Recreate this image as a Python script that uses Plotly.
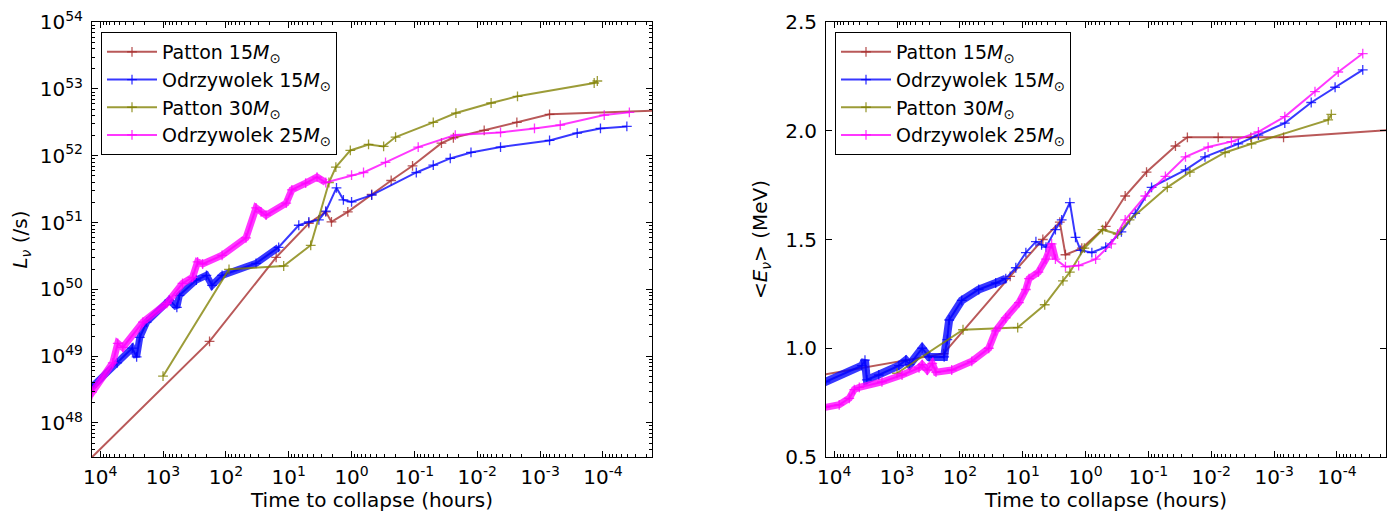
import plotly.graph_objects as go

# ---------------- data (log10 of time-to-collapse in hours) ----------------
# Patton 15 Msun (same times in both panels)
p15_logt = [4.3, 2.26, 1.20, 0.68, 0.41, 0.32, 0.06, -0.32, -0.63, -0.97, -1.43, -1.62, -2.11, -2.63, -3.15, -4.9]
p15_logL = [47.33, 49.22, 50.48, 50.99, 51.16, 51.01, 51.16, 51.42, 51.63, 51.85, 52.19, 52.27, 52.38, 52.50, 52.62, 52.68]
p15_E = [0.872, 0.975, 1.33, 1.50, 1.58, 1.43, 1.46, 1.56, 1.70, 1.81, 1.93, 1.97, 1.97, 1.97, 1.97, 2.005]

# Patton 30 Msun
p30_logt = [3.0, 1.95, 1.08, 0.65, 0.36, 0.25, 0.02, -0.27, -0.51, -0.70, -1.30, -1.66, -2.22, -2.64, -3.86, -3.91]
p30_logL = [48.70, 50.30, 50.35, 50.66, 51.60, 51.83, 52.08, 52.17, 52.14, 52.28, 52.50, 52.64, 52.79, 52.89, 53.09, 53.12]
p30_E = [0.885, 1.085, 1.095, 1.20, 1.31, 1.35, 1.46, 1.545, 1.525, 1.59, 1.74, 1.81, 1.90, 1.94, 2.05, 2.075]

# Odrzywolek 15 Msun - luminosity panel
o15_logt_L = [4.2, 4.13, 3.73, 3.49, 3.42, 3.37, 3.26, 2.90, 2.78, 2.74, 2.47, 2.31, 2.22, 2.06, 1.52, 1.16,
              0.84, 0.68, 0.52, 0.41, 0.24, 0.13, 0.0, -0.32, -1.03, -1.30, -1.57, -1.90, -2.37, -3.15,
              -3.59, -3.96, -4.38]
o15_logL = [48.44, 48.54, 48.90, 49.12, 48.99, 49.28, 49.51, 49.84, 49.73, 49.91, 50.14, 50.21, 50.06, 50.21,
            50.39, 50.63, 50.96, 51.01, 51.04, 51.17, 51.52, 51.34, 51.31, 51.41, 51.75, 51.86, 51.96, 52.05,
            52.13, 52.23, 52.34, 52.41, 52.44]
# Odrzywolek 15 Msun - energy panel
o15_logt_E = [4.2, 4.14, 3.56, 3.51, 3.48, 3.29, 2.97, 2.86, 2.80, 2.60, 2.49, 2.25, 2.20, 2.17, 1.97, 1.70,
              1.43, 1.27, 1.11, 0.95, 0.79, 0.70, 0.63, 0.48, 0.38, 0.25, 0.16, 0.08, -0.10, -0.32, -0.57,
              -0.79, -1.05, -1.59, -1.90, -2.43, -2.75, -3.17, -3.59, -3.97, -4.41]
o15_E = [0.84, 0.845, 0.92, 0.945, 0.855, 0.877, 0.92, 0.945, 0.925, 1.0, 0.96, 0.96, 1.04, 1.13, 1.22, 1.27,
         1.30, 1.32, 1.37, 1.44, 1.49, 1.475, 1.465, 1.545, 1.59, 1.67, 1.51, 1.45, 1.44, 1.465, 1.535,
         1.62, 1.74, 1.82, 1.88, 1.94, 1.98, 2.035, 2.13, 2.20, 2.28]

# Odrzywolek 25 Msun - luminosity panel
o25_logt_L = [4.2, 4.13, 3.80, 3.72, 3.64, 3.32, 2.94, 2.69, 2.53, 2.45, 2.37, 2.06, 1.68, 1.52, 1.44, 1.36,
              1.04, 0.95, 0.73, 0.55, 0.41, 0.0, -0.19, -0.54, -1.06, -1.65, -2.37, -2.91, -3.32, -4.02, -4.42]
o25_logL = [48.36, 48.46, 48.90, 49.19, 49.13, 49.51, 49.79, 50.09, 50.18, 50.41, 50.38, 50.51, 50.77, 51.22,
            51.16, 51.11, 51.29, 51.49, 51.59, 51.68, 51.60, 51.71, 51.75, 51.90, 52.13, 52.31, 52.35, 52.41,
            52.46, 52.61, 52.65]
# Odrzywolek 25 Msun - energy panel
o25_logt_E = [4.2, 4.14, 3.92, 3.76, 3.68, 3.60, 3.24, 2.92, 2.65, 2.60, 2.52, 2.44, 2.38, 2.13, 1.81, 1.54,
              1.43, 1.27, 1.06, 0.95, 0.90, 0.75, 0.63, 0.54, 0.48, 0.32, 0.11, -0.16, -0.41, -0.63, -0.95,
              -1.27, -1.59, -1.95, -2.32, -2.75, -3.17, -3.65, -4.02, -4.41]
o25_E = [0.725, 0.73, 0.74, 0.77, 0.81, 0.82, 0.845, 0.877, 0.91, 0.925, 0.90, 0.93, 0.89, 0.90, 0.94, 1.00,
         1.08, 1.14, 1.21, 1.27, 1.32, 1.35, 1.41, 1.48, 1.41, 1.375, 1.38, 1.41, 1.48, 1.59, 1.70,
         1.79, 1.88, 1.925, 1.95, 1.995, 2.065, 2.18, 2.27, 2.355]

# tick labels
x_tick_exp = [4, 3, 2, 1, 0, -1, -2, -3, -4]
x_tick_text = ["10<sup>%d</sup>" % e for e in x_tick_exp]
yL_tick_exp = [48, 49, 50, 51, 52, 53, 54]
yL_tick_text = ["10<sup>%d</sup>" % e for e in yL_tick_exp]
yE_ticks = [0.5, 1.0, 1.5, 2.0, 2.5]
yE_tick_text = ["0.5", "1.0", "1.5", "2.0", "2.5"]

names = ["Patton 15<i>M</i><sub>⊙</sub>", "Odrzywolek 15<i>M</i><sub>⊙</sub>",
         "Patton 30<i>M</i><sub>⊙</sub>", "Odrzywolek 25<i>M</i><sub>⊙</sub>"]
colors = ["rgba(165,42,42,0.78)", "rgba(0,0,255,0.78)", "rgba(128,128,0,0.78)", "rgba(255,0,255,0.78)"]

FONT = "DejaVu Sans"


def pw(v):
    return [10.0 ** a for a in v]


fig = go.Figure()


def add(xlog, y, idx, xa, ya, legend, dense=None):
    c = colors[idx]
    x = pw(xlog)
    if dense is not None:
        fig.add_trace(go.Scatter(x=x[:dense[0]], y=y[:dense[0]], mode="lines",
                                 line=dict(color=c, width=dense[1]), showlegend=False,
                                 hoverinfo="skip", xaxis=xa, yaxis=ya))
    fig.add_trace(go.Scatter(
        x=x, y=y, mode="lines+markers", name=names[idx],
        line=dict(color=c, width=2),
        marker=dict(symbol="cross-thin", size=7, line=dict(color=c, width=1.3)),
        legend=legend, legendgroup=legend + str(idx), xaxis=xa, yaxis=ya))


# left panel
add(p15_logt, pw(p15_logL), 0, "x", "y", "legend")
add(o15_logt_L, pw(o15_logL), 1, "x", "y", "legend", dense=(16, 7))
add(p30_logt, pw(p30_logL), 2, "x", "y", "legend")
add(o25_logt_L, pw(o25_logL), 3, "x", "y", "legend", dense=(21, 7))
# right panel
add(p15_logt, p15_E, 0, "x2", "y2", "legend2")
add(o15_logt_E, o15_E, 1, "x2", "y2", "legend2", dense=(18, 8))
add(p30_logt, p30_E, 2, "x2", "y2", "legend2")
add(o25_logt_E, o25_E, 3, "x2", "y2", "legend2", dense=(25, 7))

# the page body adds an 8px offset; figure is sized/positioned to compensate
W, H = 1390, 504
x_minor = [m * 10.0 ** e for e in range(-6, 6) for m in range(2, 10)]
yL_minor = [m * 10.0 ** e for e in range(46, 55) for m in range(2, 10)]

tickfont = dict(family=FONT, size=20, color="black")
titlefont = dict(family=FONT, size=20, color="black")


def xcfg(domain, anchor):
    return dict(type="log", domain=domain, anchor=anchor, range=[4.13, -4.78], automargin=False,
                tickmode="array", tickvals=pw(x_tick_exp), ticktext=x_tick_text,
                ticks="inside", ticklen=6, tickwidth=1, tickcolor="black",
                showline=True, linecolor="black", linewidth=1, mirror="allticks",
                showgrid=False, zeroline=False, tickfont=tickfont, ticklabelstandoff=2,
                ticklabeloverflow="allow",
                minor=dict(tickmode="array", tickvals=x_minor, ticks="inside", ticklen=3,
                           tickcolor="black", showgrid=False),
                title=dict(text="Time to collapse (hours)", font=titlefont, standoff=2))


fig.update_layout(
    width=W, height=H,
    margin=dict(l=0, r=0, t=14, b=55, autoexpand=False),
    paper_bgcolor="white", plot_bgcolor="white",
    font=dict(family=FONT, color="black"),
    xaxis=xcfg([84 / W, 644 / W], "y"),
    xaxis2=xcfg([818 / W, 1378 / W], "y2"),
    yaxis=dict(type="log", domain=[0, 1], anchor="x", range=[47.49, 54.003], automargin=False,
               tickmode="array", tickvals=pw(yL_tick_exp), ticktext=yL_tick_text,
               ticks="inside", ticklen=6, tickwidth=1, tickcolor="black",
               showline=True, linecolor="black", linewidth=1, mirror="allticks",
               showgrid=False, zeroline=False, tickfont=tickfont, ticklabelstandoff=4,
               ticklabeloverflow="allow",
               minor=dict(tickmode="array", tickvals=yL_minor, ticks="inside", ticklen=3,
                          tickcolor="black", showgrid=False),
               title=dict(text="<i>L</i><sub><i>ν</i></sub> (/s)", font=titlefont, standoff=8)),
    yaxis2=dict(domain=[0, 1], anchor="x2", range=[0.5, 2.5], automargin=False,
                tickmode="array", tickvals=yE_ticks, ticktext=yE_tick_text,
                ticks="inside", ticklen=6, tickwidth=1, tickcolor="black",
                showline=True, linecolor="black", linewidth=1, mirror="allticks",
                showgrid=False, zeroline=False, tickfont=tickfont, ticklabelstandoff=4,
                ticklabeloverflow="allow",
                title=dict(text="&lt;<i>E</i><sub><i>ν</i></sub>&gt; (MeV)", font=titlefont, standoff=12)),
    legend=dict(x=93 / W, y=0.977, xanchor="left", yanchor="top",
                bgcolor="white", bordercolor="black", borderwidth=1,
                font=dict(family=FONT, size=19, color="black"),
                traceorder="grouped", tracegroupgap=0, itemwidth=50),
    legend2=dict(x=827 / W, y=0.977, xanchor="left", yanchor="top",
                 bgcolor="white", bordercolor="black", borderwidth=1,
                 font=dict(family=FONT, size=19, color="black"),
                 traceorder="grouped", tracegroupgap=0, itemwidth=50),
)

fig.write_html("out.html")
